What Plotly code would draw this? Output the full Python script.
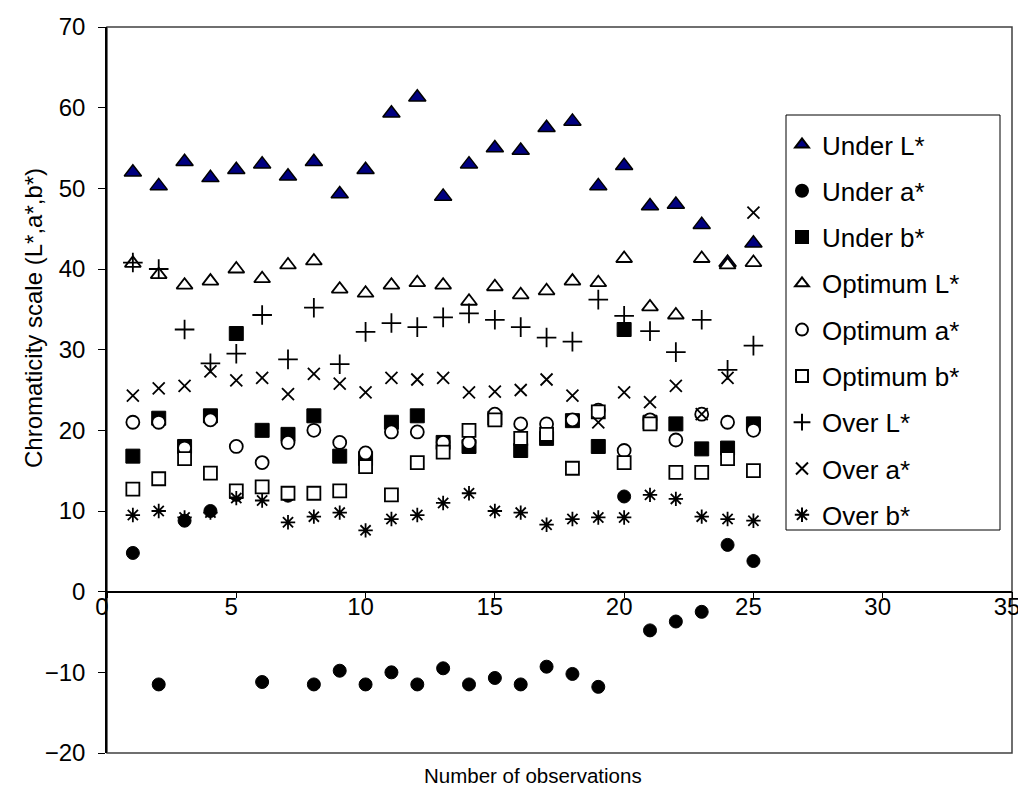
import plotly.graph_objects as go

obs = list(range(1, 26))

under_L = [52.0, 50.3, 53.3, 51.3, 52.3, 53.0, 51.5, 53.3, 49.3, 52.3, 59.3, 61.3, 49.0,
           53.0, 55.0, 54.7, 57.5, 58.3, 50.3, 52.8, 47.8, 48.0, 45.5, 40.8, 43.2]
under_a = [4.8, -11.5, 8.8, 10.0, 12.0, -11.2, 11.9, -11.5, -9.8, -11.5, -10.0, -11.5, -9.5,
           -11.5, -10.7, -11.5, -9.3, -10.2, -11.8, 11.8, -4.8, -3.7, -2.5, 5.8, 3.8]
under_b = [16.8, 21.5, 18.0, 21.8, 32.0, 20.0, 19.5, 21.8, 16.8, 16.5, 21.0, 21.8, 18.5,
           18.0, 21.5, 17.5, 19.0, 21.2, 18.0, 32.5, 21.0, 20.8, 17.7, 17.8, 20.8]
opt_L = [40.7, 39.3, 38.0, 38.5, 40.0, 38.8, 40.5, 41.0, 37.5, 37.0, 38.0, 38.3, 38.0,
         36.0, 37.8, 36.8, 37.3, 38.5, 38.3, 41.3, 35.3, 34.3, 41.3, 40.5, 40.8]
opt_a = [21.0, 21.0, 17.8, 21.3, 18.0, 16.0, 18.5, 20.0, 18.5, 17.2, 19.8, 19.8, 18.5,
         18.5, 22.0, 20.8, 20.8, 21.3, 22.5, 17.5, 21.3, 18.8, 22.0, 21.0, 20.0]
opt_b = [12.7, 14.0, 16.5, 14.7, 12.5, 13.0, 12.2, 12.2, 12.5, 15.5, 12.0, 16.0, 17.3,
         20.0, 21.3, 19.0, 19.5, 15.3, 22.3, 16.0, 20.8, 14.8, 14.8, 16.5, 15.0]
over_L = [40.8, 40.0, 32.5, 28.3, 29.5, 34.3, 28.8, 35.2, 28.2, 32.2, 33.3, 32.8, 34.0,
          34.5, 33.7, 32.8, 31.5, 31.0, 36.2, 34.2, 32.3, 29.7, 33.7, 27.5, 30.5]
over_a = [24.3, 25.2, 25.5, 27.3, 26.2, 26.5, 24.5, 27.0, 25.8, 24.7, 26.5, 26.3, 26.5,
          24.7, 24.8, 25.0, 26.3, 24.3, 21.0, 24.7, 23.5, 25.5, 22.0, 26.5, 47.0]
over_b = [9.5, 10.0, 9.2, 9.8, 11.6, 11.3, 8.6, 9.3, 9.8, 7.6, 9.0, 9.5, 11.0,
          12.2, 10.0, 9.8, 8.3, 9.0, 9.2, 9.2, 12.0, 11.5, 9.3, 9.0, 8.8]

names = ["Under L*", "Under a*", "Under b*", "Optimum L*", "Optimum a*", "Optimum b*",
         "Over L*", "Over a*", "Over b*"]
series = [under_L, under_a, under_b, opt_L, opt_a, opt_b, over_L, over_a, over_b]
styles = [
    dict(symbol="triangle-up", size=15, color="#000080", line=dict(color="black", width=1.5)),
    dict(symbol="circle", size=13, color="black", line=dict(color="black", width=1)),
    dict(symbol="square", size=14, color="black", line=dict(color="black", width=1)),
    dict(symbol="triangle-up", size=14, color="white", line=dict(color="black", width=1.8)),
    dict(symbol="circle", size=13, color="white", line=dict(color="black", width=1.8)),
    dict(symbol="square", size=13, color="white", line=dict(color="black", width=1.8)),
    dict(symbol="cross-thin", size=14, color="black", line=dict(color="black", width=1.8)),
    dict(symbol="x-thin", size=12, color="black", line=dict(color="black", width=1.8)),
    dict(symbol="asterisk", size=12, color="black", line=dict(color="black", width=1.8)),
]

FONT = "Liberation Sans, Arial, sans-serif"

# page has an 8px body margin; plot area target: x 107..1012, y 27..753 (window px)
W, H = 1018, 780
ML, MT = 99, 19
MR = W + 8 - 1012
MB = H + 8 - 753
PW = W - ML - MR
PH = H - MT - MB


def px_x(p):
    return (p - 107) / PW


def px_y(p):
    return (753 - p) / PH


fig = go.Figure()
for i, (nm, ys, st) in enumerate(zip(names, series, styles)):
    fig.add_trace(go.Scatter(x=obs, y=ys, mode="markers", name=nm, marker=st,
                             legendgroup=f"g{i}"))

fig.update_layout(
    width=W, height=H,
    margin=dict(l=ML, r=MR, t=MT, b=MB, autoexpand=False),
    paper_bgcolor="white", plot_bgcolor="white",
    font=dict(family=FONT, color="black", size=24),
    showlegend=True,
    legend=dict(x=px_x(782), y=px_y(121), xanchor="left", yanchor="top",
                bgcolor="rgba(0,0,0,0)", borderwidth=0,
                font=dict(size=26, family=FONT), tracegroupgap=9.5,
                traceorder="grouped", itemsizing="constant"),
    xaxis=dict(range=[0, 35], dtick=5, tick0=0, anchor="free", position=20 / 90,
               automargin=False,
               showline=True, linecolor="black", linewidth=1.5,
               ticks="outside", ticklen=6, tickcolor="black", tickwidth=1,
               ticklabelstandoff=-12, ticklabelshift=-5,
               showgrid=False, zeroline=False, tickfont=dict(size=24)),
    yaxis=dict(range=[-20, 70], dtick=10, tick0=0, automargin=False,
               showline=True, linecolor="black", linewidth=1.5,
               ticks="outside", ticklen=7, tickcolor="black", tickwidth=1,
               ticklabelstandoff=8,
               showgrid=False, zeroline=False, tickfont=dict(size=24)),
    shapes=[
        dict(type="rect", xref="paper", yref="paper", x0=0, x1=1, y0=0, y1=1,
             line=dict(color="#404040", width=1.5), layer="below"),
        dict(type="rect", xref="paper", yref="paper",
             x0=px_x(786), x1=px_x(1000), y0=px_y(530), y1=px_y(115),
             line=dict(color="black", width=1), fillcolor="white", layer="below"),
    ],
    annotations=[
        dict(text="Number of observations", xref="paper", yref="paper",
             x=px_x(533), y=px_y(775), xanchor="center", yanchor="middle",
             showarrow=False, font=dict(size=20.5)),
        dict(text="Chromaticity scale (L*,a*,b*)", xref="paper", yref="paper",
             x=px_x(33), y=px_y(318), xanchor="center", yanchor="middle",
             textangle=-90, showarrow=False, font=dict(size=24)),
    ],
)

fig.write_html("out.html")
